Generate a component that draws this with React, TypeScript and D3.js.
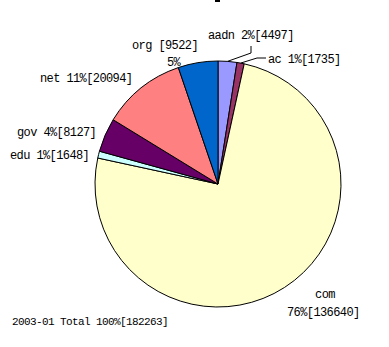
import React from "react";
import * as d3 from "d3";

const categories = ["aadn", "ac", "com", "edu", "gov", "net", "org"];
const values = [4497, 1735, 136640, 1648, 8127, 20094, 9522];
const percents = ["2%", "1%", "76%", "1%", "4%", "11%", "5%"];
const colors = ["#9999ff", "#993366", "#ffffcc", "#ccffff", "#660066", "#ff8080", "#0066cc"];
const footer = "2003-01 Total 100%[182263]";

const W = 389;
const H = 347;
const cx = 218;
const cy = 184;
const R = 123;

export default function App() {
  const pie = d3.pie<number>().sort(null).startAngle(0).endAngle(2 * Math.PI);
  const arcs = pie(values);
  const arc = d3.arc<d3.PieArcDatum<number>>().innerRadius(0).outerRadius(R);
  const outerPt = (i: number) => {
    const a = (arcs[i].startAngle + arcs[i].endAngle) / 2;
    return [cx + R * Math.sin(a), cy - R * Math.cos(a)];
  };
  const lbl = (i: number) => `${categories[i]} ${percents[i]}[${values[i]}]`;
  const font = "'Liberation Mono', 'DejaVu Sans Mono', monospace";
  const a0 = outerPt(0);
  const a1 = outerPt(1);
  return (
    <svg
      width={W}
      height={H}
      style={{ position: "absolute", left: 0, top: 0, background: "#fff" }}
    >
      <rect x={215} y={0} width={5} height={2} fill="#000" />
      <g transform={`translate(${cx},${cy})`}>
        {arcs.map((d, i) => (
          <path key={i} d={arc(d) || ""} fill={colors[i]} stroke="#000" strokeWidth={1} />
        ))}
      </g>
      <polyline
        points={`251,46 251,53 ${a0[0]},${a0[1]}`}
        fill="none"
        stroke="#000"
        strokeWidth={1}
      />
      <polyline
        points={`266,58 257,58 ${a1[0]},${a1[1]}`}
        fill="none"
        stroke="#000"
        strokeWidth={1}
      />
      <g fontFamily={font} fontSize={12} letterSpacing={-0.6} fill="#000">
        <text x={208} y={39}>{lbl(0)}</text>
        <text x={268} y={63}>{lbl(1)}</text>
        <text x={325} y={298} textAnchor="middle">{categories[2]}</text>
        <text x={287} y={316}>{`${percents[2]}[${values[2]}]`}</text>
        <text x={10} y={159}>{lbl(3)}</text>
        <text x={17} y={136}>{lbl(4)}</text>
        <text x={40} y={82}>{lbl(5)}</text>
        <text x={132} y={49}>{`${categories[6]} [${values[6]}]`}</text>
        <text x={167} y={66}>{percents[6]}</text>
      </g>
      <text x={12} y={325} fontFamily={font} fontSize={11} letterSpacing={-0.6} fill="#000">{footer}</text>
    </svg>
  );
}
